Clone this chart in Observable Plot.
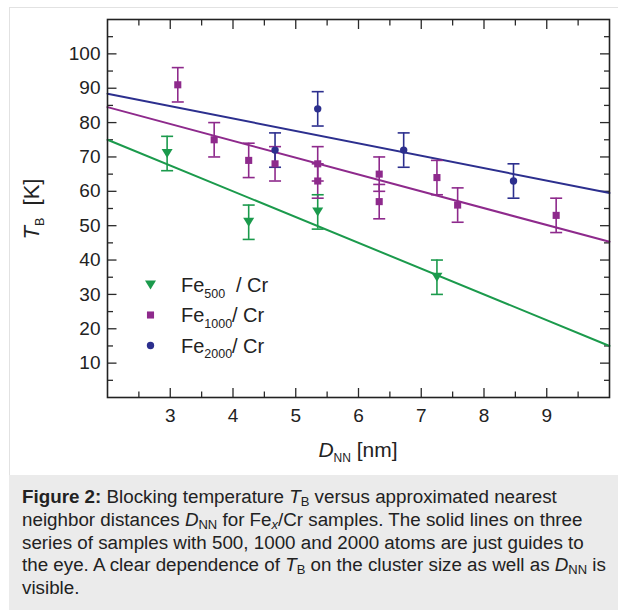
<!DOCTYPE html>
<html>
<head>
<meta charset="utf-8">
<script src="https://cdn.jsdelivr.net/npm/d3@7"></script>
<script src="https://cdn.jsdelivr.net/npm/@observablehq/plot@0.6"></script>
<style>
  html, body { margin: 0; padding: 0; background: #fff; }
  body { width: 618px; height: 610px; position: relative; overflow: hidden; font-family: "Liberation Sans", Arial, sans-serif; }
  #border { position: absolute; left: 9px; top: 7px; width: 620px; height: 480px; border-left: 1px solid #e2e2e2; border-top: 1px solid #e2e2e2; }
  #chart { position: absolute; left: 0; top: 0; }
  #caption { position: absolute; left: 9px; top: 475px; width: 609px; height: 135px; background: #ebebeb;
    box-sizing: border-box; padding: 11px 0 0 13px; font-size: 18.8px; line-height: 22.75px; color: #222; white-space: nowrap; }
  #caption sub { font-size: 13px; vertical-align: -3px; line-height: 0; }
</style>
</head>
<body>
<div id="border"></div>
<div id="chart"></div>
<div id="caption"><b>Figure 2:</b> Blocking temperature <i>T</i><sub>B</sub> versus approximated nearest<br>neighbor distances <i>D</i><sub>NN</sub> for Fe<sub><i>x</i></sub>/Cr samples. The solid lines on three<br>series of samples with 500, 1000 and 2000 atoms are just guides to<br>the eye. A clear dependence of <i>T</i><sub>B</sub> on the cluster size as well as <i>D</i><sub>NN</sub> is<br>visible.</div>
<script>
// ---- data ----
const fe500X  = [2.95, 4.25, 5.35, 7.25];
const fe500Y  = [71, 51, 54, 35];
const fe1000X = [3.12, 3.70, 4.25, 4.67, 5.35, 5.35, 6.33, 6.33, 7.25, 7.58, 9.15];
const fe1000Y = [91, 75, 69, 68, 68, 63, 65, 57, 64, 56, 53];
const fe2000X = [4.67, 5.35, 6.72, 8.47];
const fe2000Y = [72, 84, 72, 63];
const errorK = 5;                 // ± error bar half-height (K)
const guideX = [2, 10];           // guide lines drawn across the x domain
const fe500Guide  = [75, 15];
const fe1000Guide = [84.5, 45.3];
const fe2000Guide = [88.4, 59.5];
const xMajor = [3, 4, 5, 6, 7, 8, 9];
const xMinor = [2.5, 3.5, 4.5, 5.5, 6.5, 7.5, 8.5, 9.5];
const yMajor = [10, 20, 30, 40, 50, 60, 70, 80, 90, 100];
const yMinor = [5, 15, 25, 35, 45, 55, 65, 75, 85, 95, 105];
const seriesNames = ["500", "1000", "2000"];

const colors = {"500": "#1b9a4c", "1000": "#8e2a8c", "2000": "#2c2f8e"};

const points = [];
fe500X.forEach((x, i) => points.push({series: "500", x, y: fe500Y[i]}));
fe1000X.forEach((x, i) => points.push({series: "1000", x, y: fe1000Y[i]}));
fe2000X.forEach((x, i) => points.push({series: "2000", x, y: fe2000Y[i]}));
points.forEach(d => { d.lo = d.y - errorK; d.hi = d.y + errorK; });

const guides = [];
[["500", fe500Guide], ["1000", fe1000Guide], ["2000", fe2000Guide]].forEach(([s, ys]) =>
  guideX.forEach((x, i) => guides.push({series: s, x, y: ys[i]})));

const capSymbol = { draw(ctx) { ctx.moveTo(-6, 0); ctx.lineTo(6, 0); } };
const triDown = { draw(ctx) { ctx.moveTo(-5.5, -4.5); ctx.lineTo(5.5, -4.5); ctx.lineTo(0, 4.5); ctx.closePath(); } };
const symbolFor = {"500": triDown, "1000": "square", "2000": "circle"};

const tickStroke = "#2a2a2a";
const blank = () => "";

const marks = [
  // inward ticks on all four sides
  Plot.axisX(xMajor, {anchor: "bottom", tickSize: 9, dy: -9, tickFormat: blank, label: null, stroke: tickStroke, strokeWidth: 1.3}),
  Plot.axisX(xMinor, {anchor: "bottom", tickSize: 5.5, dy: -5.5, tickFormat: blank, label: null, stroke: tickStroke, strokeWidth: 1.3}),
  Plot.axisX(xMajor, {anchor: "top", tickSize: 9, dy: 9, tickFormat: blank, label: null, stroke: tickStroke, strokeWidth: 1.3}),
  Plot.axisX(xMinor, {anchor: "top", tickSize: 5.5, dy: 5.5, tickFormat: blank, label: null, stroke: tickStroke, strokeWidth: 1.3}),
  Plot.axisY(yMajor, {anchor: "left", tickSize: 9.5, dx: 9.5, tickFormat: blank, label: null, stroke: tickStroke, strokeWidth: 1.3}),
  Plot.axisY(yMinor, {anchor: "left", tickSize: 6, dx: 6, tickFormat: blank, label: null, stroke: tickStroke, strokeWidth: 1.3}),
  Plot.axisY(yMajor, {anchor: "right", tickSize: 10, dx: -10, tickFormat: blank, label: null, stroke: tickStroke, strokeWidth: 1.3}),
  Plot.axisY(yMinor, {anchor: "right", tickSize: 6, dx: -6, tickFormat: blank, label: null, stroke: tickStroke, strokeWidth: 1.3}),
  // tick labels
  Plot.axisX(xMajor, {anchor: "bottom", tickSize: 0, tickPadding: 11, label: null, fontSize: 19, fill: "#222"}),
  Plot.axisY(yMajor, {anchor: "left", tickSize: 0, tickPadding: 7, label: null, fontSize: 19, fill: "#222"}),
  // guide lines
  Plot.line(guides, {x: "x", y: "y", z: "series", stroke: d => colors[d.series], strokeWidth: 2}),
  // error bars
  Plot.ruleX(points, {x: "x", y1: "lo", y2: "hi", stroke: d => colors[d.series], strokeWidth: 1.6}),
  Plot.dot(points, {x: "x", y: "lo", symbol: () => capSymbol, stroke: d => colors[d.series], fill: "none", strokeWidth: 1.6}),
  Plot.dot(points, {x: "x", y: "hi", symbol: () => capSymbol, stroke: d => colors[d.series], fill: "none", strokeWidth: 1.6}),
  // markers
  ...seriesNames.map(s => Plot.dot(points.filter(d => d.series === s), {
    x: "x", y: "y", symbol: symbolFor[s], r: s === "2000" ? 3.7 : 4, fill: colors[s], stroke: "none"})),
  Plot.frame({stroke: "#222", strokeWidth: 1.6})
];

const chart = Plot.plot({
  width: 618, height: 470,
  marginLeft: 107, marginRight: 9, marginTop: 19, marginBottom: 73,
  x: {type: "linear", domain: [2, 10]},
  y: {type: "linear", domain: [0, 110]},
  style: {fontFamily: "'Liberation Sans', Arial, sans-serif", background: "transparent", color: "#222"},
  marks
});
document.getElementById("chart").appendChild(chart);

// axis titles and legend (text with sub-scripts)
const svg = d3.select(chart);

const xt = svg.append("text").attr("x", 358).attr("y", 457).attr("text-anchor", "middle")
  .attr("font-size", 21).attr("fill", "#222");
xt.append("tspan").attr("font-style", "italic").text("D");
xt.append("tspan").attr("font-size", 12).attr("dy", 5).text("NN");
xt.append("tspan").attr("dy", -5).text(" [nm]");

const yt = svg.append("text").attr("transform", "translate(39,209) rotate(-90)").attr("text-anchor", "middle")
  .attr("font-size", 22).attr("fill", "#222");
yt.append("tspan").attr("font-style", "italic").text("T");
yt.append("tspan").attr("font-size", 12.5).attr("dy", 5).text("B");
yt.append("tspan").attr("dy", -5).text("  [K]");

const legendY = [285, 315, 345.5];
const slashX = [236, 232, 232];
seriesNames.forEach((s, i) => {
  const g = svg.append("g").attr("transform", `translate(150.5,${legendY[i]})`);
  const sym = typeof symbolFor[s] === "string" ? (s === "1000" ? d3.symbolSquare : d3.symbolCircle) : symbolFor[s];
  const r = s === "2000" ? 3.7 : 4;
  g.append("path").attr("d", d3.symbol(sym, r * r * Math.PI)()).attr("fill", colors[s]);
  const t = svg.append("text").attr("x", 181).attr("y", legendY[i] + 7).attr("text-anchor", "start")
    .attr("font-size", 20).attr("fill", "#222");
  t.append("tspan").text("Fe");
  t.append("tspan").attr("font-size", 12.5).attr("dy", 5.5).text(s);
  t.append("tspan").attr("x", slashX[i]).attr("dy", -5.5).text("/ Cr");
});
</script>
</body>
</html>
